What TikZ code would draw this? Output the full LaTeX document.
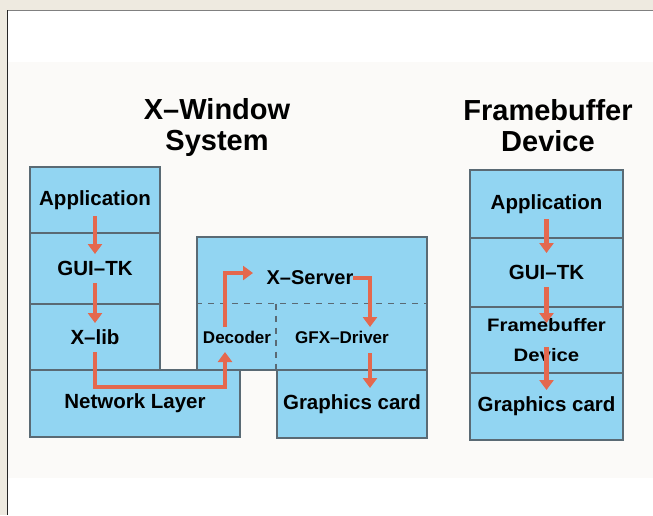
\documentclass[tikz,border=0pt]{standalone}
\usepackage{fontspec}
\setmainfont{Liberation Sans}
\newfontfamily\wideSans{Liberation Sans}[FakeStretch=1.13]
\usetikzlibrary{arrows.meta}
\definecolor{layerBlue}{RGB}{146,213,242}
\definecolor{layerEdge}{RGB}{90,106,116}
\definecolor{flowRed}{RGB}{228,104,78}
\definecolor{paperBeige}{RGB}{238,234,224}
\definecolor{panelGray}{RGB}{251,250,248}
\tikzstyle{layerBox}=[draw = layerEdge, fill = layerBlue, line width = 1.8pt, inner sep = 0pt, align = center, font = \fontsize{20.5}{24}\selectfont\bfseries]
\tikzstyle{flowArrow}=[draw = flowRed, line width = 4.5pt, -{Triangle[width = 14pt, length = 10pt]}]
\tikzstyle{titleText}=[align = center, inner sep = 0pt, font = \fontsize{29}{31}\selectfont\bfseries]

\begin{document}
\begin{tikzpicture}[x = 1pt, y = -1pt]
\tikzstyle{innerText}=[inner sep = 0pt, font = \fontsize{17}{20}\selectfont\bfseries]
\tikzstyle{splitLine}=[draw = layerEdge, line width = 1.4pt, dash pattern = on 6pt off 6pt]
\fill[paperBeige] (0,0) rectangle (653,515);
\useasboundingbox (0,0) rectangle (653,515);
\fill[white] (7,10) rectangle (653,515);
\fill[panelGray] (8,62) rectangle (653,478);
\draw[gray, line width = 1.5pt] (7,10.5) -- (653,10.5);
\draw[black!85, line width = 1.5pt] (7.5,10) -- (7.5,515);
\node[titleText] (xTitle) at (217,127.5) {X--Window\\System};
\node[titleText] (fbTitle) at (548,126) {Framebuffer\\Device};
\node[layerBox, minimum width = 130pt, minimum height = 66pt] (appL) at (95,200) {Application};
\node[layerBox, minimum width = 130pt, minimum height = 71pt] (guiL) at (95,268.5) {GUI--TK};
\node[layerBox, minimum width = 130pt, minimum height = 66pt] (xlib) at (95,337) {X--lib};
\node[layerBox, minimum width = 210pt, minimum height = 67pt] (netL) at (135,403.5) {Network Layer};
\node[layerBox, minimum width = 230pt, minimum height = 133pt] (xsrv) at (312,303.5) {};
\node[layerBox, minimum width = 150pt, minimum height = 68pt] (gfxCard) at (352,404) {Graphics card};
\node[layerBox, minimum width = 153pt, minimum height = 68pt] (appR) at (546.5,204) {Application};
\node[layerBox, minimum width = 153pt, minimum height = 69pt] (guiR) at (546.5,272.5) {GUI--TK};
\node[layerBox, minimum width = 153pt, minimum height = 66pt, font = \fontsize{18}{30}\selectfont\bfseries\wideSans] (fbR) at (546.5,340) {Framebuffer\\Device};
\node[layerBox, minimum width = 153pt, minimum height = 67pt] (gcR) at (546.5,406.5) {Graphics card};
\draw[splitLine] (xsrv.west) -- (xsrv.east);
\draw[splitLine] (xsrv.center -| gfxCard.west) -- (gfxCard.north west);
\node[innerText, font = \fontsize{20}{22}\selectfont\bfseries] (xsrvT) at (310,278) {X--Server};
\node[innerText] (decT) at (237,337) {Decoder};
\node[innerText] (gfxT) at (342,337) {GFX--Driver};
\coordinate (netRoute) at (225,387);
\coordinate (decBottom) at (225,352);
\coordinate (decTop) at (225,327);
\draw[flowArrow] ([yshift = -16pt]appL.center) -- ([yshift = 14.5pt]guiL.center);
\draw[flowArrow] ([yshift = -14.5pt]guiL.center) -- ([yshift = 14pt]xlib.center);
\draw[flowArrow] ([yshift = -15pt]xlib.center) |- (netRoute) -- (decBottom);
\draw[flowArrow] (decTop) |- ([xshift = -57pt, yshift = 5pt]xsrvT.center);
\draw[flowArrow] ([xshift = 43pt]xsrvT.center) -| ([xshift = 28pt, yshift = 10pt]gfxT.center);
\draw[flowArrow] ([xshift = 28pt, yshift = -16pt]gfxT.center) -- ([xshift = 18pt, yshift = 16pt]gfxCard.center);
\draw[flowArrow] ([yshift = -15pt]appR.center) -- ([yshift = 19.5pt]guiR.center);
\draw[flowArrow] ([yshift = -14.5pt]guiR.center) -- ([yshift = 17pt]fbR.center);
\draw[flowArrow] ([yshift = -7pt]fbR.center) -- ([yshift = 16.5pt]gcR.center);
\end{tikzpicture}
\end{document}
